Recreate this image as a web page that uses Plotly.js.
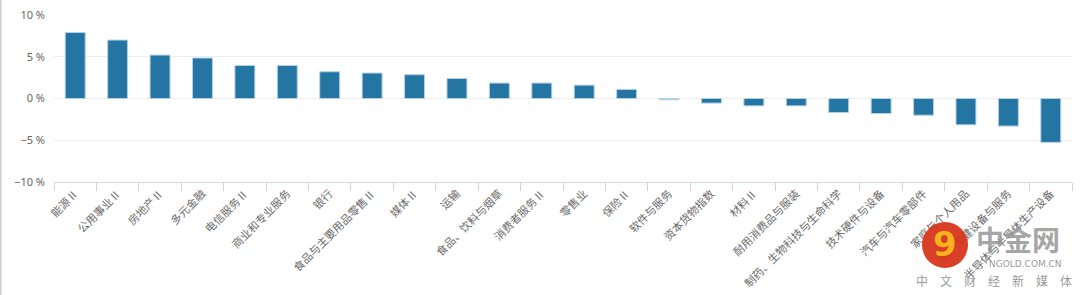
<!DOCTYPE html>
<html>
<head>
<meta charset="utf-8">
<script src="https://cdn.plot.ly/plotly-3.0.1.min.js"></script>
<style>
html,body{margin:0;padding:0;background:#fff;}
#chart{width:1080px;height:295px;}
</style>
</head>
<body>
<div id="chart"></div>
<script>
const categories = [
  "能源Ⅱ","公用事业Ⅱ","房地产Ⅱ","多元金融","电信服务Ⅱ","商业和专业服务","银行",
  "食品与主要用品零售Ⅱ","媒体Ⅱ","运输","食品、饮料与烟草","消费者服务Ⅱ","零售业","保险Ⅱ",
  "软件与服务","资本货物指数","材料Ⅱ","耐用消费品与服装","制药、生物科技与生命科学",
  "技术硬件与设备","汽车与汽车零部件","家庭与个人用品","医疗保健设备与服务","半导体与半导体生产设备"
];
const changePct = [
  7.9, 7.0, 5.2, 4.85, 3.95, 3.95, 3.2,
  3.05, 2.85, 2.4, 1.85, 1.85, 1.6, 1.08,
  -0.15, -0.55, -0.88, -0.88, -1.68,
  -1.8, -2.0, -3.15, -3.3, -5.25
];
const yTickValues = [-10, -5, 0, 5, 10];
const yTickLabels = yTickValues.map(v => (v < 0 ? "\u2212" + Math.abs(v) : String(v)) + " %");

const highlighted = "软件与服务";
const barColors = categories.map(c => c === highlighted ? "#8fbfdf" : "#2475a2");

const trace = {
  type: "bar",
  x: categories,
  y: changePct,
  marker: { color: barColors, line: { color: "#b3d1e6", width: 1 } },
  hoverinfo: "x+y"
};

const lbl = {family: "Noto Sans CJK SC, sans-serif", size: 11, color: "#6b6b6b"};
const pxX = px => (px - 54) / 1018;
const pxY = py => (295 - 113 - py) / 167;

const layout = {
  width: 1080, height: 295,
  margin: {l: 54, r: 8, t: 15, b: 113, pad: 0},
  paper_bgcolor: "#fff", plot_bgcolor: "#fff",
  bargap: 0.53,
  showlegend: false,
  font: lbl,
  xaxis: {
    type: "category",
    tickangle: -45,
    tickfont: lbl,
    showline: true, linecolor: "#ccd6eb", linewidth: 1,
    ticks: "outside", tickson: "boundaries", ticklen: 8, tickcolor: "#ccd6eb", tickwidth: 1,
    showgrid: false, fixedrange: true
  },
  yaxis: {
    range: [-10, 10],
    tickmode: "array",
    tickvals: yTickValues,
    ticktext: yTickLabels,
    tickfont: {family: "Noto Sans, sans-serif", size: 11, color: "#666"},
    showgrid: true, gridcolor: "#eeeeee", gridwidth: 1,
    zeroline: false, showline: false, ticks: "",
    ticklabelstandoff: 8, fixedrange: true
  },
  shapes: [
    {type: "line", xref: "paper", yref: "paper", x0: pxX(0.5), x1: pxX(0.5), y0: pxY(0), y1: pxY(295),
     line: {color: "#cfcfcf", width: 2}},
    {type: "circle", xref: "paper", yref: "paper", layer: "above",
     x0: pxX(922), x1: pxX(968), y0: pxY(222), y1: pxY(268),
     fillcolor: "#d8361c", line: {width: 0}, opacity: 0.95}
  ],
  annotations: [
    {xref: "paper", yref: "paper", x: pxX(945), y: pxY(244), text: "<b>9</b>", showarrow: false,
     font: {family: "DejaVu Sans", size: 34, color: "#f3b21e"}, xanchor: "center", yanchor: "middle"},
    {xref: "paper", yref: "paper", x: pxX(1018), y: pxY(239), text: "<b>中金网</b>", showarrow: false,
     font: {family: "Noto Sans CJK SC", size: 28, color: "rgba(150,150,150,0.85)"}, xanchor: "center", yanchor: "middle",
     borderpad: 0},
    {xref: "paper", yref: "paper", x: pxX(1063), y: pxY(264), text: "NGOLD.COM.CN", showarrow: false,
     font: {family: "DejaVu Sans", size: 9, color: "rgba(140,140,140,0.9)"}, xanchor: "right", yanchor: "middle",
     borderpad: 0},
    {xref: "paper", yref: "paper", x: pxX(994), y: pxY(280), text: "中　文　财　经　新　媒　体", showarrow: false,
     font: {family: "Noto Sans CJK SC", size: 12, color: "rgba(140,140,140,0.9)"}, xanchor: "center", yanchor: "middle",
     borderpad: 0}
  ]
};

Plotly.newPlot("chart", [trace], layout, {displayModeBar: false, staticPlot: true});
</script>
</body>
</html>
